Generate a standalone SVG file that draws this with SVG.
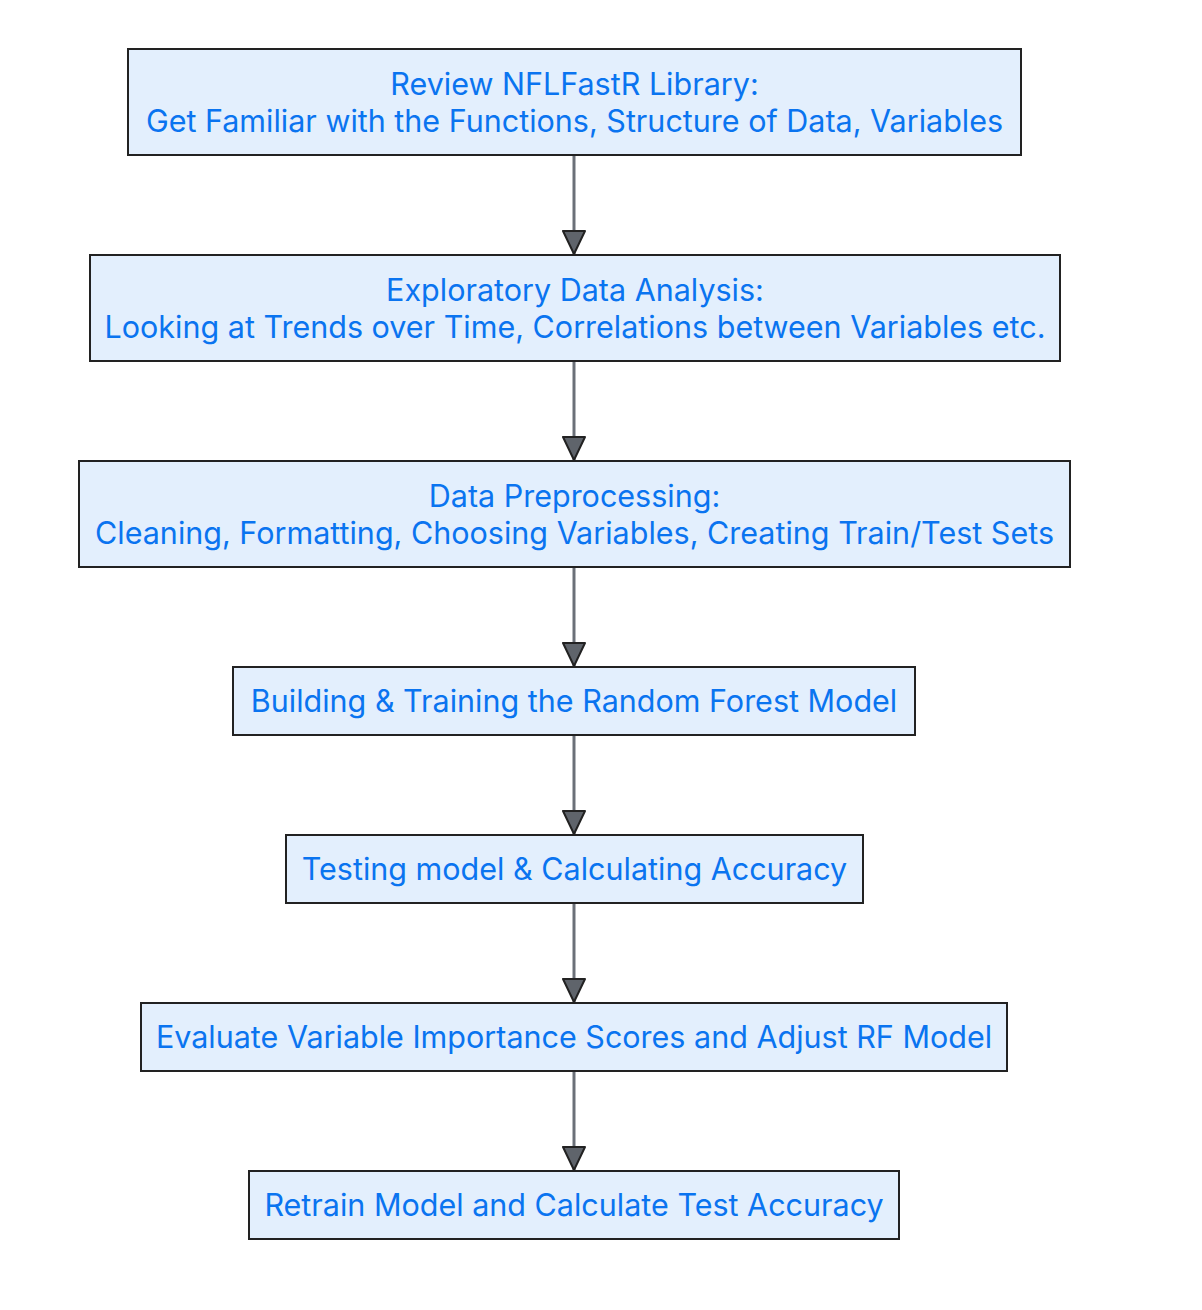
<svg xmlns="http://www.w3.org/2000/svg" width="1202" height="1310" viewBox="0 0 1202 1310">
<defs>
<style>
.node rect{fill:#e3effd;stroke:#222;stroke-width:2}
.node text{font-family:Inter,"Liberation Sans",sans-serif;font-size:30.5px;fill:#0a74f0;text-anchor:middle}
.edge{stroke:#6b7078;stroke-width:3;fill:none}
</style>
<marker id="arr" markerWidth="26" markerHeight="24" refX="24" refY="12" orient="auto" markerUnits="userSpaceOnUse" viewBox="0 0 26 24">
<path d="M1,1 L24,12 L1,23 Z" fill="#5f646b" stroke="#222" stroke-width="2" stroke-linejoin="round"/>
</marker>
</defs>
<rect width="1202" height="1310" fill="#fff"/>
<g id="edges">
<line class="edge" x1="574" y1="155" x2="574" y2="254" marker-end="url(#arr)"/>
<line class="edge" x1="574" y1="361" x2="574" y2="460" marker-end="url(#arr)"/>
<line class="edge" x1="574" y1="567" x2="574" y2="666" marker-end="url(#arr)"/>
<line class="edge" x1="574" y1="735" x2="574" y2="834" marker-end="url(#arr)"/>
<line class="edge" x1="574" y1="903" x2="574" y2="1002" marker-end="url(#arr)"/>
<line class="edge" x1="574" y1="1071" x2="574" y2="1170" marker-end="url(#arr)"/>
</g>
<g id="n1" class="node"><rect x="128" y="49" width="893" height="106"/><text x="574.5" y="95">Review NFLFastR Library:</text><text x="574.5" y="132">Get Familiar with the Functions, Structure of Data, Variables</text></g>
<g id="n2" class="node"><rect x="90" y="255" width="970" height="106"/><text x="575" y="301">Exploratory Data Analysis:</text><text x="575" y="338">Looking at Trends over Time, Correlations between Variables etc.</text></g>
<g id="n3" class="node"><rect x="79" y="461" width="991" height="106"/><text x="574.5" y="507">Data Preprocessing:</text><text x="574.5" y="544">Cleaning, Formatting, Choosing Variables, Creating Train/Test Sets</text></g>
<g id="n4" class="node"><rect x="233" y="667" width="682" height="68"/><text x="574" y="712">Building &amp; Training the Random Forest Model</text></g>
<g id="n5" class="node"><rect x="286" y="835" width="577" height="68"/><text x="574.5" y="880">Testing model &amp; Calculating Accuracy</text></g>
<g id="n6" class="node"><rect x="141" y="1003" width="866" height="68"/><text x="574" y="1048">Evaluate Variable Importance Scores and Adjust RF Model</text></g>
<g id="n7" class="node"><rect x="249" y="1171" width="650" height="68"/><text x="574" y="1216">Retrain Model and Calculate Test Accuracy</text></g>
</svg>
